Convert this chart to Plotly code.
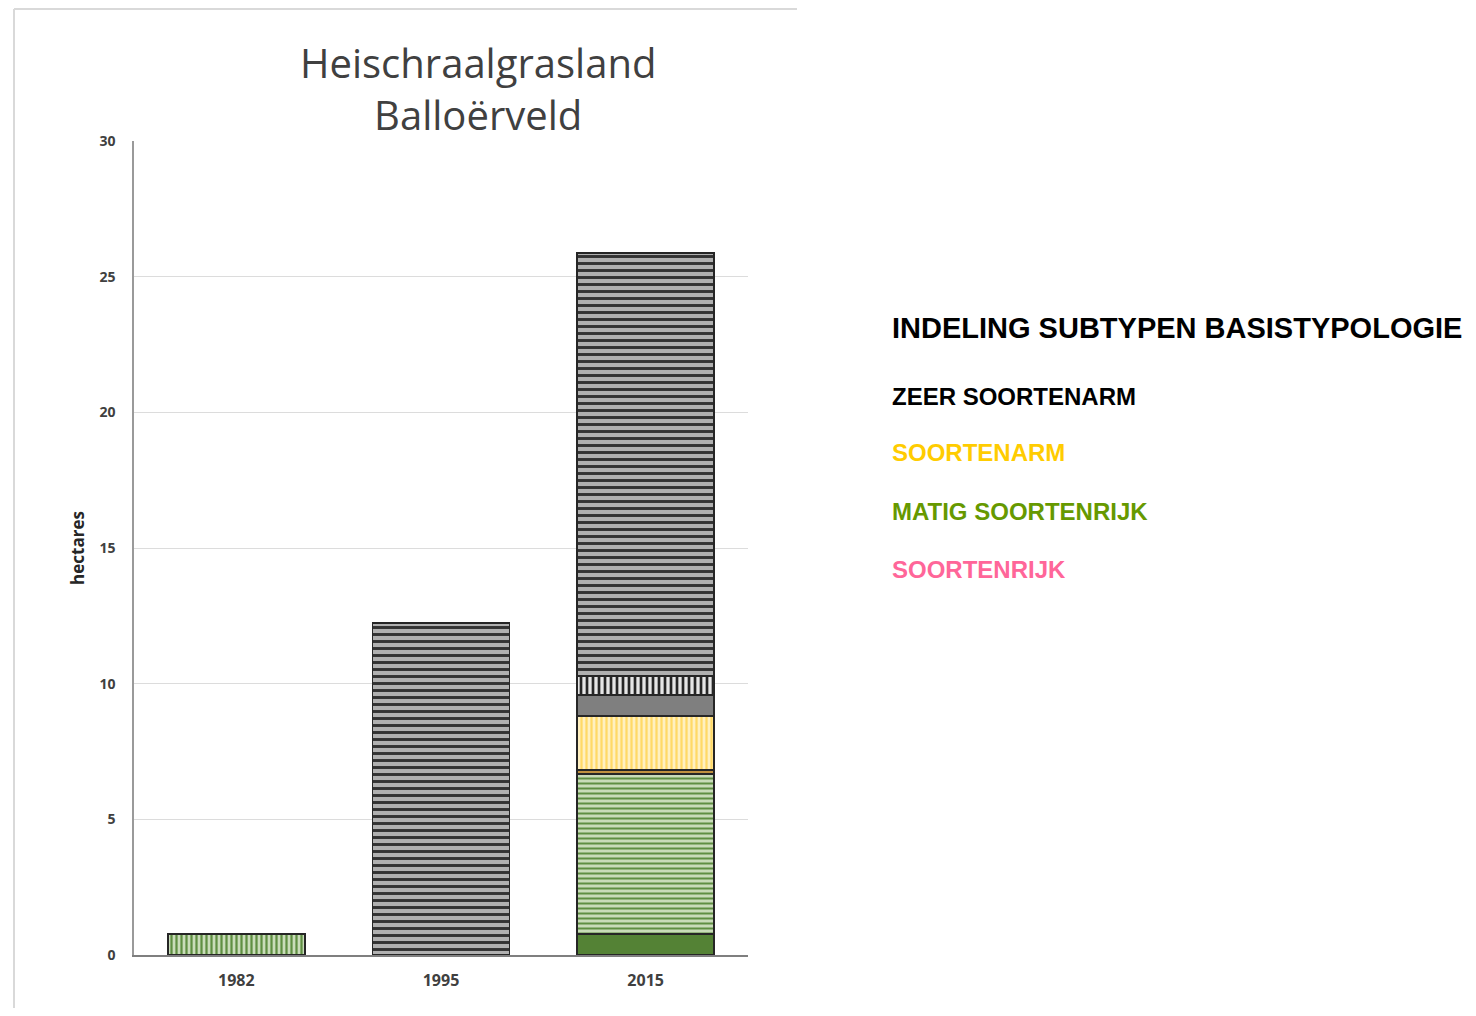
import plotly.graph_objects as go

# ---- data ----
years = ["1982", "1995", "2015"]
dark_green_solid = [None, None, 0.77]
green_vertical = [0.77, None, None]
green_horizontal = [None, None, 5.90]
brown_thin = [None, None, 0.15]
yellow_vertical = [None, None, 1.99]
grey_solid = [None, None, 0.77]
bw_vertical = [None, None, 0.70]
grey_horizontal = [None, 12.24, 15.59]

y_ticks = [0, 5, 10, 15, 20, 25, 30]
chart_title = "Heischraalgrasland<br>Balloërveld"
y_title = "hectares"
legend_title = "INDELING SUBTYPEN BASISTYPOLOGIE"
legend_items = ["ZEER SOORTENARM", "SOORTENARM", "MATIG SOORTENRIJK", "SOORTENRIJK"]
legend_colors = ["#000000", "#FFCC00", "#669900", "#FF6699"]

OFF = 8  # page body margin
W, H = 1460, 1000
L, R, T, B = 134 - OFF, 748 - OFF, 141 - OFF, 955 - OFF

fig = go.Figure()

def add(vals, name, fill, shape="", fg=None, size=6, solidity=0.4, line="#262626"):
    pattern = dict(shape=shape)
    if shape:
        pattern.update(fgcolor=fg, bgcolor=fill, size=size, solidity=solidity, fillmode="replace")
    fig.add_trace(go.Bar(
        x=years, y=vals, name=name,
        marker=dict(color=fill, pattern=pattern, line=dict(color=line, width=1.5)),
        showlegend=False,
    ))

add(dark_green_solid, "soortenrijk (vlak)", "#548235")
add(green_vertical, "matig soortenrijk 1982", "#c9dcb9", "|", "#5f8f42", 5, 0.45)
add(green_horizontal, "matig soortenrijk", "#c9dcb9", "-", "#5f8f42", 5, 0.4)
add(brown_thin, "overgang", "#bf9040")
add(yellow_vertical, "soortenarm", "#fff0c0", "|", "#ffd966", 5, 0.45)
add(grey_solid, "zeer soortenarm (vlak)", "#7f7f7f")
add(bw_vertical, "zeer soortenarm (verticaal)", "#e6e6e6", "|", "#262626", 6, 0.45)
add(grey_horizontal, "zeer soortenarm", "#b0b0b0", "-", "#333333", 7, 0.42)

fig.update_layout(
    barmode="stack",
    bargap=0.33,
    width=W, height=H,
    margin=dict(l=L, r=W - R, t=T, b=H - B, pad=0),
    plot_bgcolor="white", paper_bgcolor="white",
    font=dict(family="Open Sans, Liberation Sans, sans-serif", color="#404040"),
)

fig.update_xaxes(
    showline=True, linecolor="#7f7f7f", linewidth=1.5,
    showgrid=False, ticks="",
    ticklabelstandoff=10,
    tickfont=dict(size=16, color="#404040", family="Open Sans", weight="bold"),
)
fig.update_yaxes(
    range=[0, 30], tickvals=y_ticks,
    showline=True, linecolor="#9a9a9a", linewidth=1.5,
    showgrid=True, gridcolor="#dcdcdc", gridwidth=1.2,
    zeroline=False, ticks="",
    ticklabelstandoff=14,
    tickfont=dict(size=14, color="#404040", family="Open Sans", weight="bold"),
    title=dict(text=y_title, font=dict(size=17, color="#262626", family="Open Sans", weight="bold"), standoff=10),
)

def px_x(px):
    return (px - OFF - L) / (R - L)

def px_y(py):
    return (B - (py - OFF)) / (B - T)

# chart frame (top and left edges only)
fig.add_shape(type="line", xref="paper", yref="paper",
              x0=px_x(14), x1=px_x(797), y0=px_y(9), y1=px_y(9),
              line=dict(color="#d9d9d9", width=2), layer="below")
fig.add_shape(type="line", xref="paper", yref="paper",
              x0=px_x(14), x1=px_x(14), y0=px_y(9), y1=px_y(1030),
              line=dict(color="#d9d9d9", width=2), layer="below")

# chart title
fig.add_annotation(text=chart_title, xref="paper", yref="paper",
                   x=px_x(478), y=px_y(88), xanchor="center", yanchor="middle",
                   showarrow=False, align="center",
                   font=dict(size=40, color="#404040", family="Open Sans"))

# legend-like text on the right
fig.add_annotation(text="<b>" + legend_title + "</b>", xref="paper", yref="paper",
                   x=px_x(890), y=px_y(328), xanchor="left", yanchor="middle",
                   showarrow=False, font=dict(size=29, color="#000000", family="Liberation Sans"))
ys = [396, 453, 511, 569]
for txt, col, yy in zip(legend_items, legend_colors, ys):
    fig.add_annotation(text="<b>" + txt + "</b>", xref="paper", yref="paper",
                       x=px_x(890), y=px_y(yy), xanchor="left", yanchor="middle",
                       showarrow=False, font=dict(size=24, color=col, family="Liberation Sans"))

fig.write_html("out.html")
